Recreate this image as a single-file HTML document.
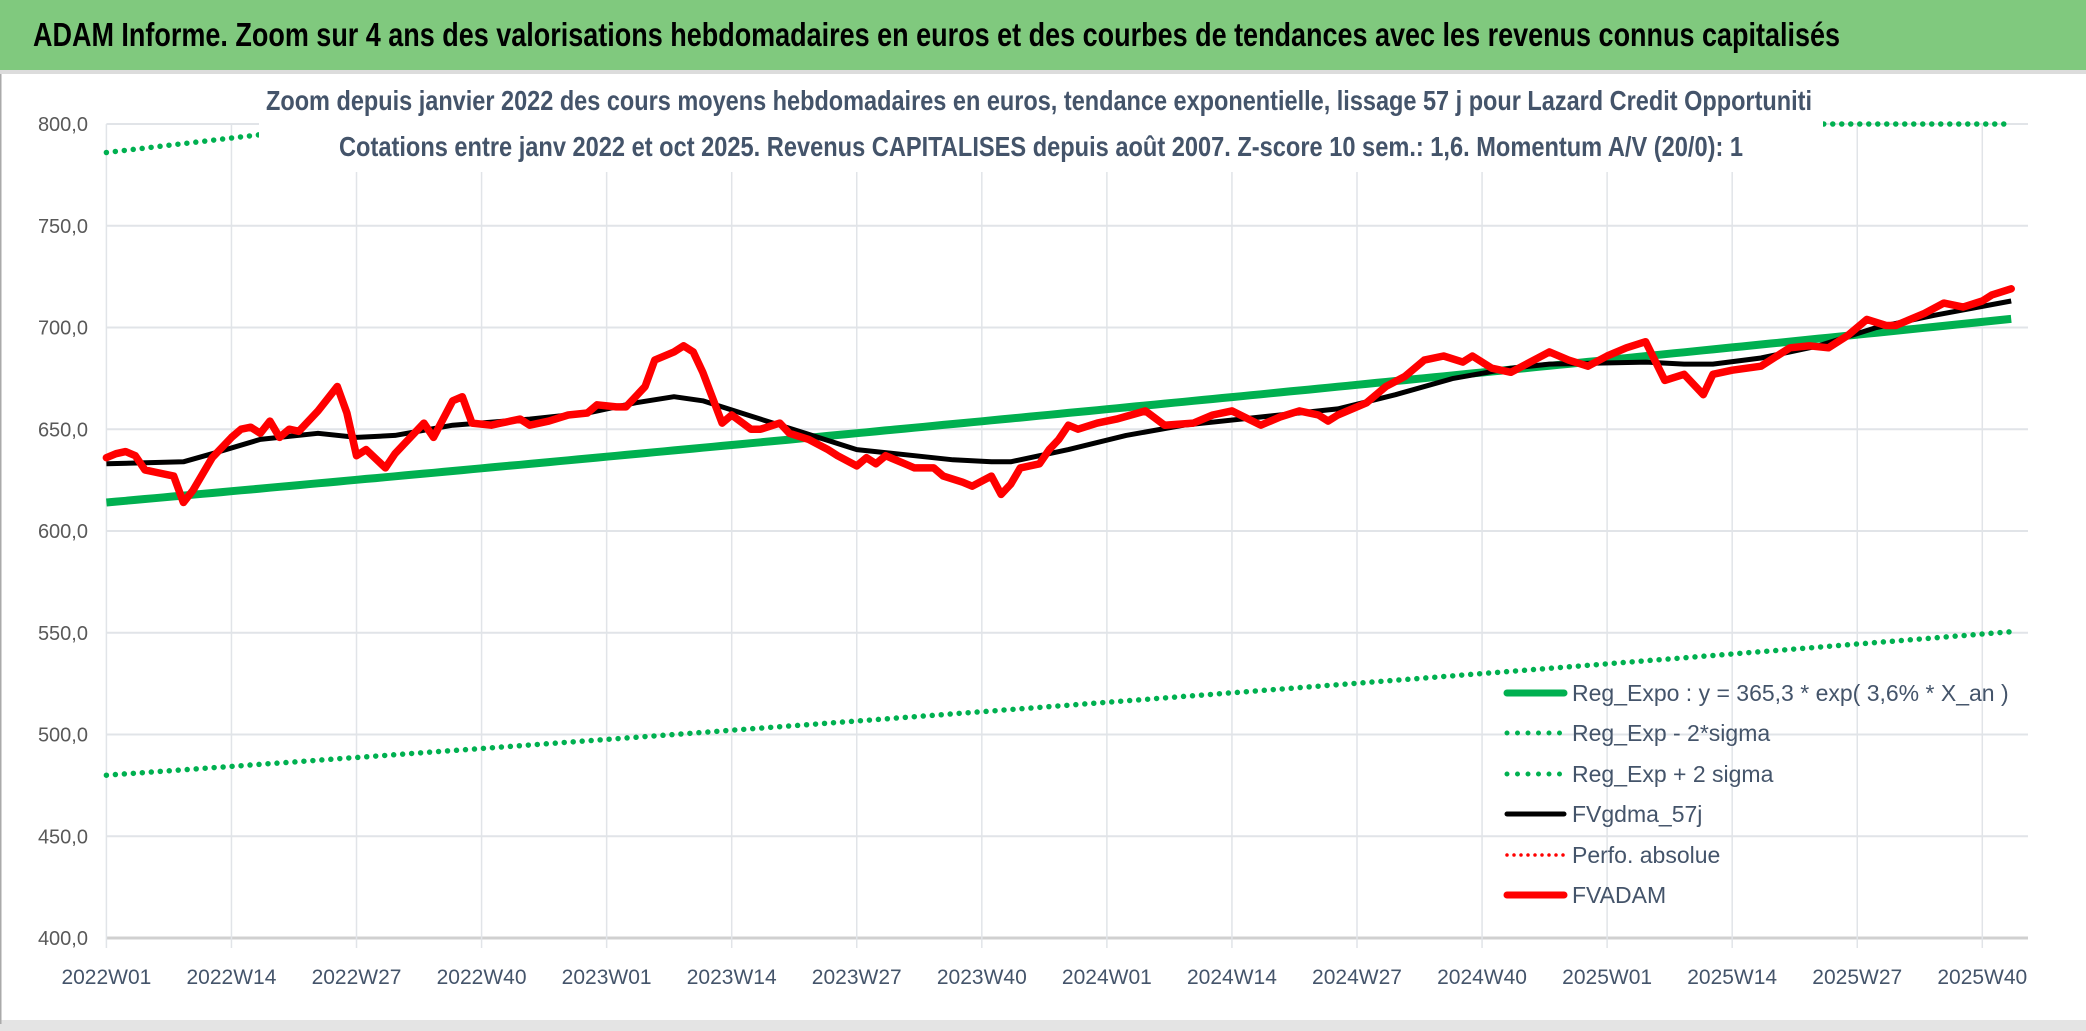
<!DOCTYPE html>
<html><head><meta charset="utf-8"><style>
html,body{margin:0;padding:0;background:#fff;}
svg{display:block;font-family:"Liberation Sans Narrow","Liberation Sans",sans-serif;}
</style></head><body>
<svg id="chart" width="2086" height="1031" viewBox="0 0 2086 1031" xmlns="http://www.w3.org/2000/svg">
<rect x="0" y="0" width="2086" height="1031" fill="#fff"/>
<rect x="0" y="0" width="2086" height="70" fill="#80c97e"/>
<rect x="0" y="70" width="2086" height="4" fill="#dcdcdc"/>
<rect x="0" y="1020" width="2086" height="11" fill="#e4e4e4"/>
<rect x="0" y="74" width="1.5" height="950" fill="#aaa"/>
<text x="33" y="46" font-size="33" font-weight="bold" fill="#000" textLength="1807" lengthAdjust="spacingAndGlyphs">ADAM Informe. Zoom sur 4 ans des valorisations hebdomadaires en euros et des courbes de tendances avec les revenus connus capitalisés</text>
<g id="grid"></g>
<g id="series"></g>
<rect x="259" y="76" width="1564" height="96" fill="#fff"/>
<text x="1039" y="110" text-anchor="middle" font-size="28" font-weight="bold" fill="#44546a" textLength="1546" lengthAdjust="spacingAndGlyphs">Zoom depuis janvier 2022 des cours moyens hebdomadaires en euros, tendance exponentielle, lissage 57 j pour Lazard Credit Opportuniti</text>
<text x="1041" y="156" text-anchor="middle" font-size="28" font-weight="bold" fill="#44546a" textLength="1404" lengthAdjust="spacingAndGlyphs">Cotations entre janv 2022 et oct 2025. Revenus CAPITALISES depuis août 2007. Z-score 10 sem.: 1,6. Momentum A/V (20/0): 1</text>
<g id="axes"></g>
<g id="legend" font-family="Liberation Sans, sans-serif" font-size="23" fill="#44546a"></g>
</svg>
<script>
const yTicks=[400,450,500,550,600,650,700,750,800];
const xTickLabels=["2022W01","2022W14","2022W27","2022W40","2023W01","2023W14","2023W27","2023W40","2024W01","2024W14","2024W27","2024W40","2025W01","2025W14","2025W27","2025W40"];
const redWeeks=[0,1,2,3,4,5,7,8,9,11,13,14,15,16,17,18,19,20,22,24,25,26,27,29,30,33,34,36,37,38,40,41,43,44,46,48,50,51,53,54,56,57,59,60,61,62,64,65,67,68,70,71,73,75,76,78,79,80,81,83,84,86,87,89,90,92,93,94,95,97,98,99,100,101,103,105,108,110,113,115,117,120,122,124,126,127,128,131,133,135,137,139,141,142,144,146,148,150,152,154,156,158,160,162,164,166,167,169,172,175,177,179,181,183,185,186,189,191,193,195,196,198];
const redValues=[636,638,639,637,630,629,627,614,620,636,646,650,651,648,654,646,650,649,659,671,658,637,640,631,638,653,646,664,666,653,652,653,655,652,654,657,658,662,661,661,671,684,688,691,688,678,653,657,650,650,653,648,645,640,637,632,636,633,637,633,631,631,627,624,622,627,618,623,631,633,640,645,652,650,653,655,659,652,653,657,659,652,656,659,657,654,657,663,671,676,684,686,683,686,680,678,683,688,684,681,686,690,693,674,677,667,677,679,681,690,691,690,696,704,701,701,707,712,710,713,716,719];
const maWeeks=[0,8,11,16,22,26,30,36,44,50,55,59,62,66,72,78,84,88,92,94,100,106,112,120,128,134,140,146,150,160,164,167,172,178,184,190,198];
const maValues=[633,634,638,645,648,646,647,652,655,658,663,666,664,658,649,640,637,635,634,634,640,647,652,656,660,667,675,680,682,683,682,682,685,691,700,706,713];
const regBase=[614];
const regLow=[480];
const regHigh=[786];
const regRate=[0.036];
const totalWeeks=198;

const NS="http://www.w3.org/2000/svg";
const X0=106.4, WK=125.06/13, Y0=938, YS=(938-124)/400;
const xs=w=>X0+w*WK;
const ys=v=>Y0-(Math.max(400,Math.min(800,v))-400)*YS;
function mk(tag,attrs,parent){const e=document.createElementNS(NS,tag);for(const k in attrs)e.setAttribute(k,attrs[k]);parent.appendChild(e);return e;}
const grid=document.getElementById('grid'),axes=document.getElementById('axes'),ser=document.getElementById('series'),leg=document.getElementById('legend');

yTicks.forEach(v=>{
  const l=mk('line',{x1:X0,x2:2028,y1:ys(v),y2:ys(v),stroke:v===400?'#d0d0d0':'#e1e4e8','stroke-width':v===400?3:2},grid);
  
  
  const t=mk('text',{x:88,y:ys(v)+7,'text-anchor':'end','font-size':20,fill:'#595959'},axes);
  
  
  t.textContent=v.toFixed(1).replace('.',',');
});
xTickLabels.forEach((lab,i)=>{
  const x=xs(i*13);
  const l=mk('line',{x1:x,x2:x,y1:124,y2:948,stroke:'#e1e4e8','stroke-width':1.5},grid);
  
  
  const t=mk('text',{x:x,y:984,'text-anchor':'middle','font-size':21,fill:'#44546a'},axes);
  
  
  t.textContent=lab;
});

function regPts(base){const p=[];for(let w=0;w<=totalWeeks;w++)p.push(xs(w).toFixed(1)+','+ys(base*Math.exp(regRate[0]*w/52)).toFixed(1));return p.join(' ');}
function pts(ws,vs){return ws.map((w,i)=>xs(w).toFixed(1)+','+ys(vs[i]).toFixed(1)).join(' ');}

let e;
e=mk('polyline',{points:regPts(regLow[0]),fill:'none',stroke:'#00b050','stroke-width':5.5,'stroke-dasharray':'0 9','stroke-linecap':'round'},ser);


e=mk('polyline',{points:regPts(regHigh[0]),fill:'none',stroke:'#00b050','stroke-width':5.5,'stroke-dasharray':'0 9','stroke-linecap':'round'},ser);


e=mk('polyline',{points:regPts(regBase[0]),fill:'none',stroke:'#00b050','stroke-width':8,'stroke-linejoin':'round'},ser);


e=mk('polyline',{points:pts(maWeeks,maValues),fill:'none',stroke:'#000','stroke-width':5,'stroke-linejoin':'round'},ser);


e=mk('polyline',{points:pts(redWeeks,redValues),fill:'none',stroke:'#ff0000','stroke-width':7.5,'stroke-linejoin':'round','stroke-linecap':'round'},ser);



const legItems=[
 ["Reg_Expo : y = 365,3 * exp( 3,6% *  X_an )",'#00b050',7,null],
 ["Reg_Exp - 2*sigma",'#00b050',5,'0 10.5'],
 ["Reg_Exp + 2 sigma",'#00b050',5,'0 10.5'],
 ["FVgdma_57j",'#000',5,null],
 ["Perfo. absolue",'#ff0000',3.5,'0 7'],
 ["FVADAM",'#ff0000',7,null]];
const legY=[693,733,774,814,855,895];
legItems.forEach((it,i)=>{
  const y=legY[i];
  const g=mk('g',{},leg);
  
  
  const a={x1:1507,x2:1564,y1:y,y2:y,stroke:it[1],'stroke-width':it[2],'stroke-linecap':'round'};
  if(it[3])a['stroke-dasharray']=it[3];
  const l=mk('line',a,g);
  
  
  const t=mk('text',{x:1572,y:y+8},g);
  
  
  t.textContent=it[0];
});
</script>
</body></html>
